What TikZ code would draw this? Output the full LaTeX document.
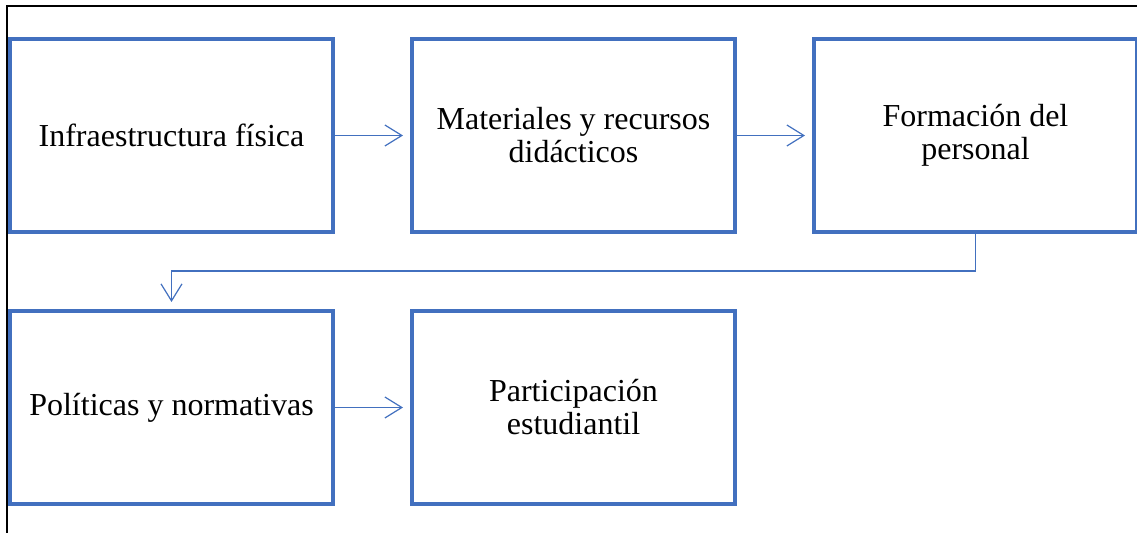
\documentclass[tikz,border=0pt]{standalone}
\usepackage{fontspec}
\setmainfont{Liberation Serif}
\usetikzlibrary{positioning,arrows.meta}
\definecolor{boxblue}{HTML}{4270BF}
\begin{document}
\begin{tikzpicture}[x=0.5pt,y=-0.5pt,
    node distance=37.5pt,
    stage/.style={draw=boxblue, line width=2pt, minimum width=161.5pt, minimum height=96.5pt,
      align=center, font=\fontsize{16}{16.5}\selectfont, inner sep=0pt},
    flow/.style={draw=boxblue, line width=0.6pt, shorten >=3.5pt,
      -{Straight Barb[length=8.5pt,width=10.5pt,line width=0.6pt]}}]
    \clip (0,0) rectangle (1137,533);
    \draw[line width=0.75pt] (7,533) -- (7,6) -- (1137,6);
    \node[stage] (infra) at (171.5,135.5) {Infraestructura física};
    \node[stage, right=of infra] (materiales) {Materiales y recursos\\didácticos};
    \node[stage, right=of materiales] (formacion) {Formación del\\personal};
    \node[stage, below=of infra] (politicas) {Políticas y normativas};
    \node[stage, right=of politicas] (participacion) {Participación\\estudiantil};
    \draw[flow] (infra) -- (materiales);
    \draw[flow] (materiales) -- (formacion);
    \draw[flow] (formacion.south) -- ++(0,-18.5pt) -| (politicas.north);
    \draw[flow] (politicas) -- (participacion);
\end{tikzpicture}
\end{document}
